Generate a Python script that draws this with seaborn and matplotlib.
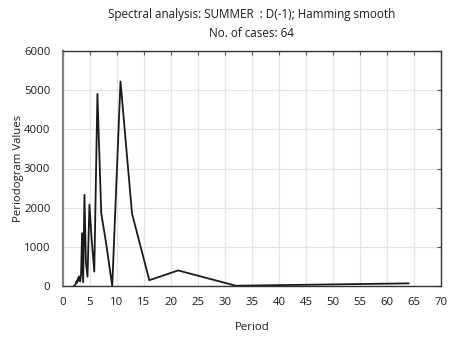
import pandas as pd
import matplotlib
matplotlib.use("Agg")
import matplotlib.pyplot as plt
import seaborn as sns

# periodogram values (period = 64 / k)
periods = [2.00, 2.06, 2.13, 2.21, 2.29, 2.37, 2.46, 2.56, 2.67, 2.78, 2.91,
           3.05, 3.20, 3.37, 3.56, 3.76, 4.00, 4.27, 4.57, 4.92, 5.33, 5.82,
           6.40, 7.11, 8.00, 9.14, 10.67, 12.80, 16.00, 21.33, 32.00, 64.00]
values = [0, 5, 10, 20, 30, 50, 100, 120, 90, 200, 150,
          250, 120, 280, 1350, 100, 2330, 600, 240, 2075, 1200, 370,
          4900, 1860, 1100, 0, 5220, 1850, 150, 400, 10, 70]

x_ticks = list(range(0, 75, 5))
y_ticks = list(range(0, 7000, 1000))

df = pd.DataFrame({"Period": periods, "Value": values})

sns.set_theme(style="white")
plt.rcParams['font.family'] = ['Open Sans', 'DejaVu Sans']

fig = plt.figure(figsize=(4.52, 3.37), dpi=100)
ax = fig.add_axes([0.139, 0.151, 0.837, 0.698])

sns.lineplot(data=df, x="Period", y="Value", ax=ax, color="#1a1a1a",
             linewidth=1.3, estimator=None, sort=False)

ax.set_xlim(0, 70)
ax.set_ylim(0, 6000)
ax.set_xticks(x_ticks)
ax.set_yticks(y_ticks)
ax.grid(True, color="#e4e4e4", linewidth=0.9)
ax.set_axisbelow(True)
ax.tick_params(axis="both", direction="in", length=3, width=0.8, color="#555555",
               labelsize=8.2, labelcolor="#1a1a1a", top=True, right=True)
ax.tick_params(axis="x", pad=8)
ax.tick_params(axis="y", pad=9)

for side in ["top", "right", "bottom"]:
    ax.spines[side].set_color("#333333")
    ax.spines[side].set_linewidth(1.0)
ax.spines["left"].set_color("#808080")
ax.spines["left"].set_linewidth(1.6)

ax.set_xlabel("Period", fontsize=8.2, color="#1a1a1a", labelpad=10)
ax.set_ylabel("Periodogram Values", fontsize=8.2, color="#1a1a1a", labelpad=0)

fig.text(0.557, 0.957, "Spectral analysis: SUMMER  : D(-1); Hamming smooth",
         ha="center", va="center", fontsize=8.4, color="#1a1a1a")
fig.text(0.557, 0.9, "No. of cases: 64", ha="center", va="center",
         fontsize=8.4, color="#1a1a1a")

fig.savefig("out.png", dpi=100)
